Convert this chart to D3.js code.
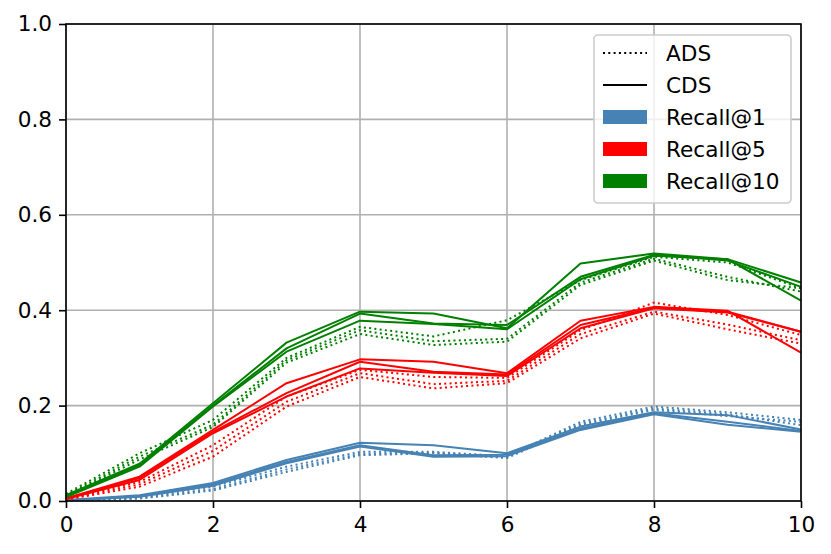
<!DOCTYPE html>
<html>
<head>
<meta charset="utf-8">
<script src="https://cdn.jsdelivr.net/npm/d3@7"></script>
<style>
  html, body { margin: 0; padding: 0; background: #fff; }
  svg { display: block; font-family: "DejaVu Sans", sans-serif; }
</style>
</head>
<body>
<svg id="chart" width="831" height="554"></svg>
<script>
// ---- data ----
const xValues = [0, 1, 2, 3, 4, 5, 6, 7, 8, 9, 10];
const xTicks = [0, 2, 4, 6, 8, 10];
const yTicks = [0.0, 0.2, 0.4, 0.6, 0.8, 1.0];

// Recall@1
const cdsRecall1 = [
  [0.002, 0.012, 0.038, 0.086, 0.122, 0.117, 0.100, 0.156, 0.186, 0.180, 0.150],
  [0.001, 0.010, 0.035, 0.082, 0.117, 0.096, 0.097, 0.152, 0.184, 0.166, 0.147],
  [0.001, 0.009, 0.032, 0.079, 0.114, 0.093, 0.094, 0.149, 0.182, 0.160, 0.145]
];
const adsRecall1 = [
  [0.001, 0.008, 0.030, 0.072, 0.103, 0.103, 0.094, 0.166, 0.198, 0.186, 0.170],
  [0.001, 0.006, 0.025, 0.066, 0.099, 0.101, 0.092, 0.162, 0.194, 0.182, 0.159],
  [0.000, 0.005, 0.022, 0.061, 0.096, 0.100, 0.090, 0.159, 0.191, 0.178, 0.166]
];
// Recall@5
const cdsRecall5 = [
  [0.006, 0.051, 0.149, 0.247, 0.297, 0.292, 0.268, 0.378, 0.407, 0.399, 0.311],
  [0.005, 0.048, 0.145, 0.226, 0.292, 0.271, 0.265, 0.369, 0.405, 0.397, 0.355],
  [0.004, 0.044, 0.142, 0.219, 0.278, 0.269, 0.262, 0.362, 0.404, 0.395, 0.355]
];
const adsRecall5 = [
  [0.005, 0.040, 0.117, 0.219, 0.275, 0.260, 0.258, 0.358, 0.416, 0.390, 0.348],
  [0.004, 0.035, 0.105, 0.208, 0.268, 0.245, 0.252, 0.350, 0.397, 0.370, 0.337],
  [0.003, 0.030, 0.093, 0.198, 0.260, 0.236, 0.247, 0.341, 0.393, 0.360, 0.330]
];
// Recall@10
const cdsRecall10 = [
  [0.012, 0.078, 0.205, 0.332, 0.397, 0.393, 0.362, 0.498, 0.519, 0.507, 0.420],
  [0.010, 0.075, 0.200, 0.320, 0.393, 0.372, 0.369, 0.470, 0.516, 0.504, 0.449],
  [0.008, 0.072, 0.198, 0.313, 0.378, 0.371, 0.360, 0.465, 0.514, 0.507, 0.458]
];
const adsRecall10 = [
  [0.015, 0.100, 0.170, 0.300, 0.365, 0.345, 0.379, 0.463, 0.512, 0.500, 0.446],
  [0.012, 0.093, 0.160, 0.295, 0.358, 0.335, 0.340, 0.458, 0.508, 0.470, 0.439],
  [0.010, 0.087, 0.155, 0.290, 0.350, 0.327, 0.334, 0.453, 0.504, 0.463, 0.446]
];

const styleNames = ["ADS", "CDS"];
const recallNames = ["Recall@1", "Recall@5", "Recall@10"];
const recallColors = ["#4682b4", "#ff0000", "#008000"];

// ---- layout ----
const svg = d3.select("#chart");
const margin = { left: 66, top: 24, right: 30, bottom: 53 };
const W = 831, H = 554;
const x = d3.scaleLinear().domain([0, 10]).range([margin.left, W - margin.right]);
const y = d3.scaleLinear().domain([0, 1]).range([H - margin.bottom, margin.top]);
const fontSize = 21.6;

// grid
const grid = svg.append("g");
grid.selectAll("line.gx").data(xTicks).enter().append("line")
  .attr("x1", d => x(d)).attr("x2", d => x(d))
  .attr("y1", y(0)).attr("y2", y(1))
  .attr("stroke", "#b0b0b0").attr("stroke-width", 1.6);
grid.selectAll("line.gy").data(yTicks).enter().append("line")
  .attr("x1", x(0)).attr("x2", x(10))
  .attr("y1", d => y(d)).attr("y2", d => y(d))
  .attr("stroke", "#b0b0b0").attr("stroke-width", 1.6);

// lines
const line = d3.line().x((d, i) => x(xValues[i])).y(d => y(d));
const groups = [
  { runs: adsRecall1, color: recallColors[0], dotted: true },
  { runs: cdsRecall1, color: recallColors[0], dotted: false },
  { runs: adsRecall5, color: recallColors[1], dotted: true },
  { runs: cdsRecall5, color: recallColors[1], dotted: false },
  { runs: adsRecall10, color: recallColors[2], dotted: true },
  { runs: cdsRecall10, color: recallColors[2], dotted: false }
];
const lineLayer = svg.append("g");
groups.forEach(g => {
  g.runs.forEach(run => {
    lineLayer.append("path")
      .attr("d", line(run))
      .attr("fill", "none")
      .attr("stroke", g.color)
      .attr("stroke-width", 2)
      .attr("stroke-dasharray", g.dotted ? "2,3.3" : null)
      .attr("stroke-linejoin", "round");
  });
});

// axes
const xAxis = d3.axisBottom(x).tickValues(xTicks).tickSize(7).tickPadding(9)
  .tickFormat(d3.format("d"));
const yAxis = d3.axisLeft(y).tickValues(yTicks).tickSize(7).tickPadding(7)
  .tickFormat(d3.format(".1f"));
const gx = svg.append("g").attr("transform", `translate(0,${y(0)})`).call(xAxis);
const gy = svg.append("g").attr("transform", `translate(${x(0)},0)`).call(yAxis);
[gx, gy].forEach(g => {
  g.select(".domain").remove();
  g.selectAll(".tick line").attr("stroke", "#000").attr("stroke-width", 1.6);
  g.selectAll(".tick text").attr("fill", "#000")
    .style("font-size", fontSize + "px").style("font-family", "DejaVu Sans");
});

// frame (spines)
svg.append("rect")
  .attr("x", x(0)).attr("y", y(1))
  .attr("width", x(10) - x(0)).attr("height", y(0) - y(1))
  .attr("fill", "none").attr("stroke", "#000").attr("stroke-width", 1.6);

// legend
const lg = svg.append("g");
lg.append("rect")
  .attr("x", 594).attr("y", 35).attr("width", 197).attr("height", 168)
  .attr("rx", 4).attr("ry", 4)
  .attr("fill", "#fff").attr("fill-opacity", 0.8)
  .attr("stroke", "#cccccc").attr("stroke-width", 1.6);
const rowY0 = 53, rowStep = 32;
const handleX0 = 603, handleX1 = 647, textX = 666;
styleNames.forEach((name, i) => {
  const cy = rowY0 + i * rowStep;
  lg.append("line")
    .attr("x1", handleX0).attr("x2", handleX1).attr("y1", cy).attr("y2", cy)
    .attr("stroke", "#000").attr("stroke-width", 2)
    .attr("stroke-dasharray", name === "ADS" ? "2,3.3" : null);
  lg.append("text").attr("x", textX).attr("y", cy).attr("dy", "0.36em")
    .style("font-size", fontSize + "px").text(name);
});
recallNames.forEach((name, i) => {
  const cy = rowY0 + (i + 2) * rowStep;
  lg.append("rect")
    .attr("x", handleX0).attr("y", cy - 7).attr("width", handleX1 - handleX0).attr("height", 14)
    .attr("fill", recallColors[i]);
  lg.append("text").attr("x", textX).attr("y", cy).attr("dy", "0.36em")
    .style("font-size", fontSize + "px").text(name);
});
</script>
</body>
</html>
